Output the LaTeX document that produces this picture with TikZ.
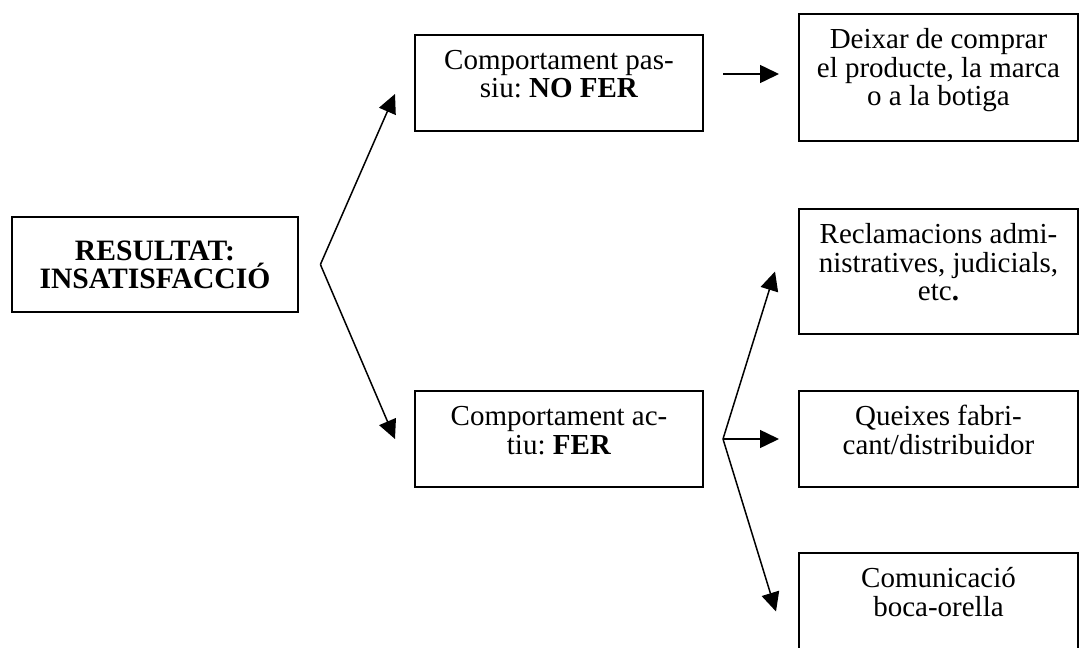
\documentclass[tikz,border=0pt]{standalone}
\usepackage{fontspec}
\setmainfont{Liberation Serif}
\usetikzlibrary{arrows.meta}
\frenchspacing

\begin{document}
\begin{tikzpicture}[
  x=0.5pt,y=-0.5pt,
  box/.style={
    rectangle,draw,line width=1pt,
    anchor=north,align=flush center,
    inner xsep=2pt,inner ysep=7.5pt,
    text height=9.8pt,
    font=\fontsize{14.5}{14.2}\selectfont
  },
  mainbox/.style={
    rectangle,draw,line width=1.4pt,
    minimum width=143pt,minimum height=47.5pt,
    align=flush center,inner sep=0pt,
    font=\bfseries\fontsize{14.8}{14}\selectfont
  },
  arrow/.style={-{Triangle[length=9.5pt,width=9pt]},line width=0.75pt}
]
\useasboundingbox (0,0) rectangle (1083,648);

\node[mainbox] (result) at (155,264.5) {RESULTAT:\\INSATISFACCIÓ};

\node[box, text width=140pt, text depth=23.2pt] (passiu) at (559,34) {Comportament pas-\\siu: \textbf{NO FER}};
\node[box, text width=140pt, text depth=23.2pt] (actiu) at (559,390) {Comportament ac-\\tiu: \textbf{FER}};

\node[box, text width=135.5pt, text depth=38.7pt] (deixar) at (938.5,13) {Deixar de comprar\\el producte, la marca\\o a la botiga};
\node[box, text width=135.5pt, text depth=37.7pt] (reclam) at (938.5,208) {Reclamacions admi-\\nistratives, judicials,\\etc\textbf{.}};
\node[box, text width=135.5pt, text depth=23.2pt] (queixes) at (938.5,390) {Queixes fabri-\\cant/distribuidor};
\node[box, text width=135.5pt, text depth=38.7pt] (comunic) at (938.5,552) {Comunicació\\boca-orella};

% branching points
\coordinate (split1) at ([xshift=10.5pt]result.east);
\coordinate (split2) at ([xshift=9.5pt]actiu.east);

\draw[arrow] (split1) -- ([xshift=-9.5pt,yshift=-5.5pt]passiu.west);
\draw[arrow] (split1) -- ([xshift=-9.5pt]actiu.west);
\draw[arrow] ([xshift=9.5pt,yshift=4.5pt]passiu.east) -- ([xshift=-9.5pt,yshift=1.75pt]deixar.west);

\draw[arrow] (split2) -- ([xshift=-11.5pt]reclam.west);
\draw[arrow] (split2) -- ([xshift=-9.5pt]queixes.west);
\draw[arrow] (split2) -- ([xshift=-11pt,yshift=2.5pt]comunic.west);

\end{tikzpicture}
\end{document}
